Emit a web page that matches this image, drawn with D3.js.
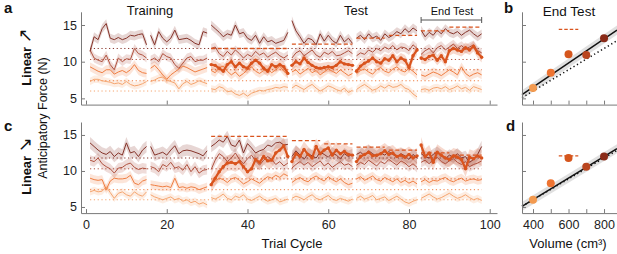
<!DOCTYPE html>
<html>
<head>
<meta charset="utf-8">
<script src="https://cdn.jsdelivr.net/npm/d3@7"></script>
<style>
  body { margin: 0; background: #fff; }
  svg { font-family: "Liberation Sans", Arial, sans-serif; }
</style>
</head>
<body>
<div id="chart"></div>
<script>
// Anticipatory force – Linear ↗ (a,b) và Linear ↘ (c,d)

const cycleBlocks = [[1, 15], [16, 30], [31, 50], [51, 66], [67, 82], [83, 98]];
const volumes = [400, 500, 600, 700, 800];
const forceTicks = [5, 10, 15];
const cycleTicks = [0, 20, 40, 60, 80, 100];
const volumeTicks = [400, 500, 600, 700, 800];
const volumeLabels = [400, 600, 800];

// panel a – chu kỳ 1..98 (600 từ chu kỳ 31)
const a800 = [11.4, 13.4, 13.0, 14.5, 15.2, 13.2, 13.0, 13.3, 13.0, 13.2, 13.6, 13.5, 13.7, 13.8, 12.3,
  13.6, 12.3, 14.1, 13.2, 12.7, 13.2, 14.3, 13.0, 13.1, 13.2, 12.9, 12.5, 12.3, 14.1, 13.9,
  15.0, 14.5, 14.0, 13.4, 13.8, 13.6, 15.0, 13.8, 14.0, 13.2, 12.9, 13.6, 12.5, 13.4, 12.7, 12.9, 12.5, 12.7, 12.9, 14.0,
  15.6, 14.2, 13.4, 12.5, 13.2, 13.0, 12.3, 13.8, 12.8, 13.6, 12.9, 12.5, 13.6, 12.7, 13.2, 12.5,
  13.2, 13.6, 13.0, 13.8, 13.2, 13.5, 12.9, 13.8, 13.3, 13.6, 14.1, 13.8, 14.5, 14.0, 14.6, 14.2,
  14.3, 13.4, 14.0, 13.6, 14.3, 13.8, 14.5, 14.0, 13.8, 14.1, 13.6, 14.0, 14.3, 13.8, 13.4, 13.8];
const a700 = [11.6, 10.5, 10.2, 10.0, 10.9, 9.6, 8.9, 10.5, 10.0, 10.4, 10.3, 11.8, 11.1, 10.9, 10.5,
  10.2, 10.5, 10.0, 11.1, 10.7, 10.5, 9.6, 9.1, 9.8, 10.5, 10.7, 10.0, 10.2, 10.2, 10.5,
  11.8, 12.0, 11.1, 10.7, 11.4, 10.9, 11.6, 11.1, 10.5, 11.0, 10.7, 11.4, 10.9, 11.2, 10.6, 11.0, 11.3, 10.8, 10.5, 10.9,
  10.5, 11.2, 11.5, 10.8, 11.2, 11.6, 10.9, 10.6, 11.3, 11.0, 11.4, 10.8, 10.9, 11.2, 11.5, 11.1,
  10.8, 11.2, 11.0, 11.6, 11.3, 11.8, 11.5, 12.0, 11.7, 12.2, 11.6, 12.0, 11.9, 11.5, 12.3, 11.8,
  11.0, 11.5, 11.8, 11.2, 11.9, 12.2, 11.6, 12.0, 12.4, 11.8, 12.2, 11.7, 12.0, 12.3, 11.5, 11.2];
const a500 = [9.3, 9.0, 8.7, 8.5, 8.9, 8.9, 8.3, 8.6, 8.8, 8.5, 8.9, 9.6, 8.8, 8.5, 8.4,
  9.1, 9.5, 8.9, 8.2, 7.6, 8.2, 8.6, 9.0, 9.4, 9.2, 8.9, 8.6, 8.8, 9.0, 9.2,
  8.8, 8.5, 9.2, 9.4, 8.7, 8.2, 8.6, 8.0, 8.4, 8.9, 9.3, 8.7, 8.4, 8.8, 9.0, 8.5, 8.9, 9.4, 8.7, 8.3,
  8.6, 8.9, 8.3, 8.7, 9.1, 8.5, 8.8, 8.2, 8.6, 9.0, 8.7, 8.4, 8.9, 8.5, 8.1, 8.4,
  8.4, 8.8, 9.0, 8.6, 8.3, 8.9, 9.2, 8.7, 8.5, 9.0, 9.3, 8.8, 8.6, 9.1, 8.7, 8.2,
  8.2, 8.0, 8.3, 8.6, 8.4, 8.1, 8.5, 8.9, 8.6, 8.2, 9.3, 8.4, 8.0, 8.3, 8.5, 8.2];
const a400 = [7.3, 7.6, 7.6, 7.4, 7.3, 7.2, 7.0, 7.1, 6.9, 7.3, 6.9, 6.7, 6.8, 7.0, 7.3,
  7.3, 7.5, 7.8, 7.9, 7.5, 7.3, 7.1, 6.3, 7.0, 7.3, 6.9, 7.1, 7.4, 7.2, 7.0,
  6.3, 6.2, 6.6, 6.4, 5.9, 6.0, 5.6, 5.4, 5.7, 5.3, 5.7, 5.9, 6.1, 6.0, 6.2, 6.3, 6.5, 6.4, 6.6, 6.5,
  6.4, 6.8, 6.5, 6.2, 6.6, 6.9, 6.4, 6.0, 6.3, 6.7, 6.5, 6.2, 6.0, 6.4, 5.8, 6.1,
  6.2, 6.6, 6.9, 6.5, 6.1, 6.3, 6.7, 6.4, 6.8, 6.5, 6.6, 6.9, 6.4, 6.2, 5.6, 5.2,
  6.2, 6.3, 6.1, 6.4, 6.5, 6.3, 6.6, 6.2, 6.4, 6.7, 6.3, 6.5, 6.1, 6.6, 6.4, 6.2];
const a600 = [9.6, 9.5, 9.1, 8.7, 9.6, 10.0, 9.3, 9.8, 9.3, 9.1, 9.8, 10.2, 9.8, 9.1, 8.7, 9.6, 9.3, 9.6, 9.3, 8.4,
  9.5, 10.0, 9.7, 10.5, 9.9, 9.5, 9.2, 9.1, 9.2, 9.3, 9.2, 9.5, 10.0, 9.7, 9.6, 9.5,
  8.7, 9.4, 9.8, 10.1, 10.5, 10.0, 9.8, 10.4, 10.2, 10.8, 10.0, 10.5, 10.2, 9.2, 10.8, 11.6,
  10.5, 10.3, 10.7, 10.9, 10.2, 10.8, 10.0, 11.5, 11.8, 11.6, 11.4, 11.9, 11.6, 12.1, 11.2, 10.6];

// panel c
const c800 = [13.9, 13.4, 12.9, 12.5, 12.3, 12.7, 12.0, 12.5, 12.2, 13.9, 12.5, 12.7, 12.0, 12.9, 13.4,
  13.4, 12.2, 12.4, 12.6, 12.2, 12.9, 13.5, 12.4, 12.8, 12.9, 12.8, 12.6, 12.4, 12.1, 12.8,
  13.4, 13.8, 14.3, 14.0, 14.8, 13.6, 13.4, 14.3, 12.5, 13.8, 13.2, 12.5, 12.8, 13.0, 13.6, 13.4, 13.9, 14.0, 13.6, 13.7,
  12.0, 12.8, 12.2, 11.6, 12.4, 12.1, 11.8, 12.6, 12.3, 11.9, 12.5, 12.2, 11.7, 12.4, 12.0, 12.3,
  12.3, 12.6, 12.1, 12.8, 12.4, 12.0, 12.5, 12.2, 12.7, 12.3, 11.9, 12.4, 12.1, 11.6, 12.3, 11.8,
  12.4, 12.0, 11.8, 12.3, 12.6, 12.1, 11.7, 12.2, 11.9, 12.4, 11.8, 12.0, 11.2, 11.6, 12.3, 13.4];
const c700 = [11.5, 11.3, 11.8, 11.0, 10.6, 10.3, 9.7, 10.4, 10.5, 10.9, 11.1, 10.5, 10.2, 10.4, 10.3,
  10.6, 10.4, 9.9, 10.9, 10.6, 11.2, 10.4, 10.6, 10.1, 10.9, 9.9, 10.6, 9.7, 10.1, 10.2,
  10.2, 11.5, 12.4, 12.0, 11.3, 11.8, 12.5, 11.6, 11.0, 11.7, 12.2, 11.4, 10.8, 11.5, 12.0, 11.6, 10.9, 11.3, 10.7, 11.1,
  10.4, 10.9, 11.3, 10.8, 11.2, 10.6, 11.0, 11.4, 10.7, 11.1, 10.5, 10.9, 11.3, 10.8, 11.0, 10.6,
  10.8, 11.2, 10.9, 11.5, 11.1, 10.7, 11.3, 11.0, 11.6, 11.2, 10.8, 11.4, 11.1, 10.6, 11.0, 10.5,
  11.2, 11.5, 11.0, 11.6, 11.9, 11.3, 11.0, 11.4, 11.7, 11.2, 10.9, 11.3, 10.6, 10.9, 11.1, 11.4];
const c500 = [9.0, 8.8, 8.7, 8.8, 7.4, 8.6, 9.0, 8.9, 8.9, 9.0, 9.4, 8.3, 8.1, 8.6, 8.8,
  8.1, 8.0, 7.9, 7.8, 7.9, 7.7, 9.0, 7.7, 7.8, 7.6, 7.8, 7.7, 7.4, 7.6, 7.8,
  8.3, 8.6, 9.0, 8.8, 8.4, 8.9, 9.1, 8.7, 8.2, 8.5, 8.9, 8.6, 8.3, 8.8, 9.2, 9.0, 9.4, 9.1, 9.6, 9.3,
  8.4, 8.8, 9.1, 8.7, 8.5, 9.0, 9.3, 8.9, 8.6, 9.2, 8.8, 8.5, 8.9, 8.4, 8.1, 8.3,
  8.9, 9.2, 8.7, 9.0, 9.3, 8.8, 8.6, 9.1, 8.8, 8.5, 8.9, 8.4, 8.7, 8.3, 8.6, 8.2,
  8.5, 8.8, 8.4, 8.7, 8.6, 8.9, 9.1, 8.7, 8.5, 8.8, 9.0, 8.6, 8.8, 8.9, 8.7, 8.8];
const c400 = [7.1, 7.3, 7.1, 7.2, 7.8, 7.0, 6.2, 6.9, 7.1, 6.7, 6.5, 7.1, 6.7, 6.5, 7.1,
  6.7, 6.4, 6.2, 6.0, 6.2, 6.4, 6.0, 6.2, 5.8, 6.0, 5.6, 5.8, 5.4, 5.6, 5.3,
  6.3, 6.1, 6.4, 6.8, 6.2, 6.0, 6.5, 6.3, 6.7, 6.1, 5.9, 6.2, 6.5, 6.1, 5.8, 6.0, 6.2, 5.7, 5.9, 6.1,
  6.2, 6.5, 6.3, 6.0, 6.4, 6.7, 6.2, 6.0, 6.3, 6.6, 6.1, 5.9, 6.2, 6.0, 5.8, 6.1,
  6.2, 6.5, 6.1, 6.3, 6.6, 6.0, 6.2, 6.4, 5.9, 6.2, 6.5, 6.1, 5.7, 5.5, 5.8, 6.0,
  6.2, 6.5, 6.8, 6.4, 6.1, 6.3, 6.6, 6.9, 6.5, 6.2, 6.4, 6.7, 6.3, 6.0, 6.2, 5.9];
const c600 = [8.1, 9.0, 9.9, 10.6, 11.1, 11.2, 11.0, 11.3, 10.6, 9.9, 10.3, 11.6, 11.2, 12.0, 11.4, 11.5, 12.5, 12.9, 13.5, 12.0,
  11.3, 12.4, 12.0, 13.0, 12.3, 11.8, 13.4, 12.4, 12.9, 13.2, 12.2, 12.9, 12.4, 12.7, 12.3, 12.2,
  11.3, 12.0, 12.3, 12.6, 12.1, 12.2, 12.4, 12.8, 12.3, 12.5, 12.0, 12.2, 11.9, 12.3, 11.8, 12.1,
  13.6, 12.0, 12.5, 11.2, 12.6, 12.2, 11.8, 11.6, 12.1, 11.9, 11.6, 10.3, 11.9, 11.7, 12.1, 11.8];

// độ rộng dải sai số (N) theo khối lượng
const semA = [0.5, 0.6, 0.7, 0.6, 0.6];
const semC = [0.5, 0.6, 1.1, 0.7, 0.8];
// mức tham chiếu (chấm) theo khối lượng
const refLevels = [6.0, 7.4, 8.9, 10.3, 11.8];
// đường gạch của vật thử 600: [chu kỳ đầu, chu kỳ cuối, N]
const dashA = [[31, 50, 11.8], [51, 66, 12.4], [67, 74, 13.2], [75, 82, 13.6], [83, 90, 14.2], [90, 98, 14.7]];
const dashC = [[31, 50, 14.8], [51, 58, 14.2], [59, 66, 13.75], [67, 74, 13.3], [75, 82, 12.9], [83, 90, 12.5], [91, 98, 12.2]];

// End Test (b, d)
const endA = [6.4, 8.5, 11.0, 10.9, 13.2];
const endC = [6.0, 8.3, 11.8, 10.6, 12.0];
const endErrA = [0, 0, 0.5, 0, 0];
const endErrC = [0, 0, 0.45, 0, 0];
const dashEndA = 14.4, dashEndC = 12.1;
const fitA = [-0.06, 0.01645];   // [hệ số chặn, hệ số góc]
const fitC = [0.0, 0.015];
const refFit = [0.2, 0.0145];

const lineColor = { 400: "#f5a56f", 500: "#ef7e42", 600: "#d9541e", 700: "#b0523f", 800: "#86342a" };
const dotColor  = { 400: "#f39a4f", 500: "#ee7432", 600: "#d5561d", 700: "#b9451f", 800: "#8a2b18" };
const axisGray = "#7a7a7a";

const W = 617, H = 254;
const svg = d3.select("#chart").append("svg").attr("width", W).attr("height", H);

const xT = d3.scaleLinear().domain([-1.24, 101.8]).range([81, 497]);
const xV = d3.scaleLinear().domain([338, 873]).range([522, 617]);
const yA = d3.scaleLinear().domain([4.15, 16.8]).range([104.6, 11.8]);
const yC = d3.scaleLinear().domain([4.15, 16.8]).range([213.1, 122]);

function styleAxis(g, fs) {
  g.attr("font-family", null).attr("font-size", null);
  g.select(".domain").attr("stroke", axisGray);
  g.selectAll(".tick line").attr("stroke", axisGray);
  g.selectAll(".tick text").attr("fill", "#222").attr("font-size", fs || 12.5);
}

function blockPts(vals, start) {
  return cycleBlocks.map(([s, e]) => {
    const pts = [];
    for (let c = Math.max(s, start); c <= e; c++) {
      const v = vals[c - start];
      if (v != null) pts.push({ c, v });
    }
    return pts;
  }).filter(p => p.length);
}

function drawTime(y, ser, sem, dash, showLabels) {
  const g = svg.append("g");
  const line = d3.line().x(d => xT(d.c)).y(d => y(d.v));

  // dải sai số
  volumes.forEach((vol, i) => {
    const start = vol === 600 ? 31 : 1;
    blockPts(ser[i], start).forEach(pts => {
      g.append("path")
        .attr("d", d3.area().x(d => xT(d.c)).y0(d => y(d.v - sem[i])).y1(d => y(d.v + sem[i]))(pts))
        .attr("fill", lineColor[vol]).attr("opacity", vol === 600 ? 0.22 : 0.2);
    });
  });

  // mức tham chiếu
  volumes.forEach((vol, i) => {
    g.append("line")
      .attr("x1", xT(vol === 600 ? 31 : 1)).attr("x2", xT(98))
      .attr("y1", y(refLevels[i])).attr("y2", y(refLevels[i]))
      .attr("stroke", lineColor[vol]).attr("stroke-width", 1)
      .attr("stroke-dasharray", "1.2,2.6");
  });

  // đường mảnh
  volumes.forEach((vol, i) => {
    if (vol === 600) return;
    blockPts(ser[i], 1).forEach(pts => {
      g.append("path").attr("d", line(pts))
        .attr("fill", "none").attr("stroke", lineColor[vol]).attr("stroke-width", 1);
    });
  });

  // đường gạch dự đoán
  dash.forEach(([s, e, v]) => {
    g.append("line")
      .attr("x1", xT(s)).attr("x2", xT(e))
      .attr("y1", y(v)).attr("y2", y(v))
      .attr("stroke", lineColor[600]).attr("stroke-width", 1.3)
      .attr("stroke-dasharray", "4,2.5");
  });

  // vật thử 600
  blockPts(ser[2], 31).forEach(pts => {
    g.append("path").attr("d", line(pts))
      .attr("fill", "none").attr("stroke", lineColor[600]).attr("stroke-width", 2.2)
      .attr("stroke-linejoin", "round");
    g.append("g").selectAll("circle").data(pts).join("circle")
      .attr("cx", d => xT(d.c)).attr("cy", d => y(d.v)).attr("r", 1.7)
      .attr("fill", lineColor[600]);
  });

  // trục
  const y0 = y.range()[0];
  svg.append("g").attr("transform", `translate(0,${y0})`)
    .call(d3.axisBottom(xT).tickValues(cycleTicks).tickSizeInner(-4).tickSizeOuter(0).tickPadding(7)
      .tickFormat(showLabels ? d3.format("d") : ""))
    .call(g => styleAxis(g));
  svg.append("g").attr("transform", `translate(${xT.range()[0]},0)`)
    .call(d3.axisLeft(y).tickValues(forceTicks).tickSizeInner(-4).tickSizeOuter(0).tickPadding(4))
    .call(g => styleAxis(g));
}

function drawEnd(y, vals, errs, dashV, fit, showLabels) {
  const g = svg.append("g");
  const vx = xV.domain();
  // dải quanh đường hồi quy
  g.append("path")
    .attr("d", d3.area().x(d => xV(d)).y0(d => y(fit[0] + fit[1] * d - 0.3 - Math.abs(d - 600) * 0.0012))
      .y1(d => y(fit[0] + fit[1] * d + 0.3 + Math.abs(d - 600) * 0.0012))(vx))
    .attr("fill", "#d8d8d8").attr("opacity", 0.8);
  g.append("line")
    .attr("x1", xV(vx[0])).attr("x2", xV(vx[1]))
    .attr("y1", y(refFit[0] + refFit[1] * vx[0])).attr("y2", y(refFit[0] + refFit[1] * vx[1]))
    .attr("stroke", "#111").attr("stroke-width", 1.5).attr("stroke-dasharray", "1.3,2.7");
  g.append("line")
    .attr("x1", xV(vx[0])).attr("x2", xV(vx[1]))
    .attr("y1", y(fit[0] + fit[1] * vx[0])).attr("y2", y(fit[0] + fit[1] * vx[1]))
    .attr("stroke", "#111").attr("stroke-width", 1.5);
  g.append("line")
    .attr("x1", xV(545)).attr("x2", xV(655))
    .attr("y1", y(dashV)).attr("y2", y(dashV))
    .attr("stroke", lineColor[600]).attr("stroke-width", 1.4).attr("stroke-dasharray", "3.5,2");
  volumes.forEach((vol, i) => {
    if (errs[i] > 0) {
      g.append("line")
        .attr("x1", xV(vol)).attr("x2", xV(vol))
        .attr("y1", y(vals[i] - errs[i])).attr("y2", y(vals[i] + errs[i]))
        .attr("stroke", dotColor[vol]).attr("stroke-width", 2);
    }
    g.append("circle").attr("cx", xV(vol)).attr("cy", y(vals[i])).attr("r", 4)
      .attr("fill", dotColor[vol]);
  });

  const y0 = y.range()[0];
  svg.append("g").attr("transform", `translate(0,${y0})`)
    .call(d3.axisBottom(xV).tickValues(volumeTicks).tickSizeInner(-4).tickSizeOuter(0).tickPadding(7)
      .tickFormat(d => showLabels && volumeLabels.includes(d) ? d : ""))
    .call(g => styleAxis(g));
  svg.append("g").attr("transform", `translate(${xV.range()[0]},0)`)
    .call(d3.axisLeft(y).tickValues(forceTicks).tickSizeInner(-4).tickSizeOuter(0).tickFormat(""))
    .call(g => styleAxis(g));
}

drawTime(yA, [a400, a500, a600, a700, a800], semA, dashA, false);
drawTime(yC, [c400, c500, c600, c700, c800], semC, dashC, true);
drawEnd(yA, endA, endErrA, dashEndA, fitA, false);
drawEnd(yC, endC, endErrC, dashEndC, fitC, true);

// chữ
const txt = (x, y, s, o = {}) => svg.append("text")
  .attr("x", x).attr("y", y).text(s)
  .attr("font-size", o.fs || 13).attr("fill", "#111")
  .attr("font-weight", o.bold ? "bold" : null)
  .attr("text-anchor", o.anchor || "middle")
  .attr("transform", o.rot ? `rotate(-90,${x},${y})` : null);

txt(4, 13, "a", { fs: 15, bold: true, anchor: "start" });
txt(504, 13, "b", { fs: 15, bold: true, anchor: "start" });
txt(4, 131, "c", { fs: 15, bold: true, anchor: "start" });
txt(506, 131, "d", { fs: 15, bold: true, anchor: "start" });

txt(150, 14.5, "Training");
txt(356, 14.5, "Test");
txt(569, 15.5, "End Test", { fs: 13.5 });
txt(452, 15, "End Test", { fs: 11 });
svg.append("line").attr("x1", xT(83)).attr("x2", xT(98)).attr("y1", 20).attr("y2", 20)
  .attr("stroke", "#555").attr("stroke-width", 1);
[83, 98].forEach(c => svg.append("line").attr("x1", xT(c)).attr("x2", xT(c))
  .attr("y1", 17).attr("y2", 23).attr("stroke", "#555").attr("stroke-width", 1));

// "Linear" + mũi tên mảnh
[[57, "↗"], [166, "↘"]].forEach(([cy, arrow]) => {
  const t = txt(30.5, cy, "Linear ", { fs: 13, bold: true, rot: true });
  t.append("tspan").attr("font-weight", "normal").attr("font-family", "DejaVu Sans")
    .attr("font-size", 18).text(arrow);
});
txt(47, 118, "Anticipatory Force (N)", { fs: 12.5, rot: true });
txt(292, 248, "Trial Cycle", { fs: 13 });
txt(568, 248, "Volume (cm³)", { fs: 13 });
</script>
</body>
</html>
